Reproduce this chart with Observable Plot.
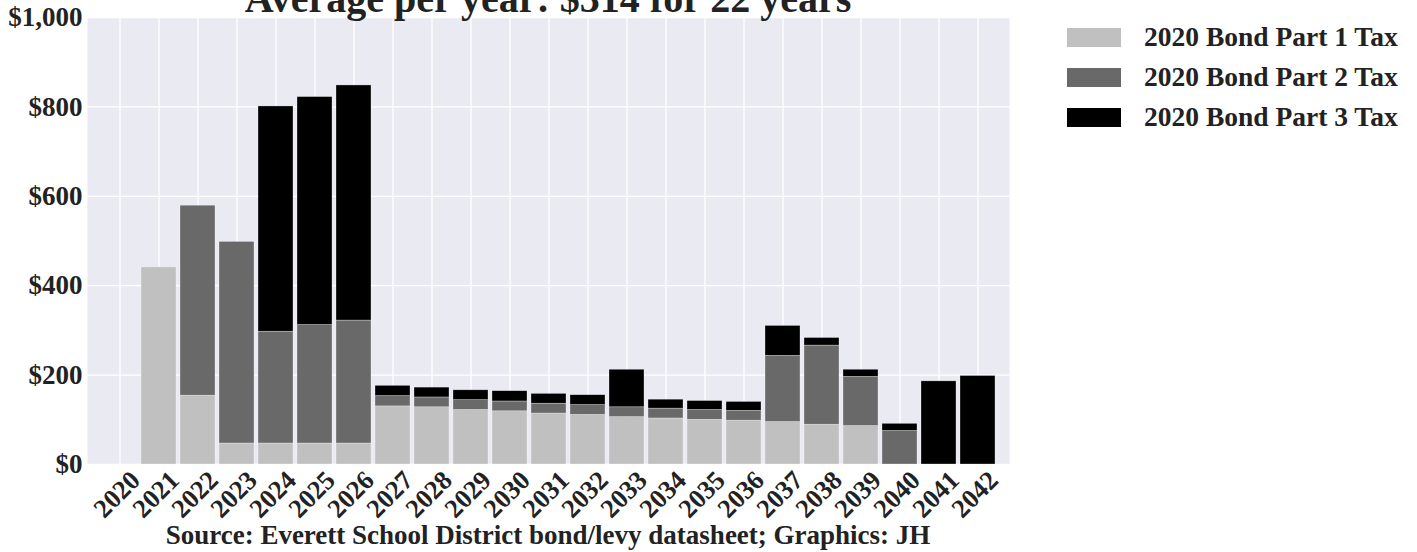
<!DOCTYPE html>
<html><head><meta charset="utf-8">
<script src="https://cdn.jsdelivr.net/npm/d3@7"></script>
<script src="https://cdn.jsdelivr.net/npm/@observablehq/plot@0.6"></script>
<style>
body{margin:0;background:#fff;}
#wrap{position:relative;width:1417px;height:552px;overflow:hidden;font-family:"Liberation Serif","Times New Roman",serif;font-weight:bold;color:#222;}
#chart{position:absolute;left:0;top:0;}
.title{position:absolute;left:0;width:1096px;text-align:center;font-size:40px;line-height:40px;top:-21px;white-space:nowrap;}
.caption{position:absolute;left:0;width:1096px;text-align:center;font-size:27px;line-height:27px;top:522px;white-space:nowrap;}
.leg{position:absolute;left:1067px;height:40px;display:flex;align-items:center;font-size:27.5px;white-space:nowrap;}
.leg .sw{width:54px;height:19px;margin-right:23px;}
</style></head>
<body><div id="wrap"><div id="chart"></div></div>
<script>
const years = ["2020","2021","2022","2023","2024","2025","2026","2027","2028","2029","2030","2031","2032","2033","2034","2035","2036","2037","2038","2039","2040","2041","2042"];
const part1 = [0, 441, 154, 47, 47, 47, 47, 130, 128, 122, 119, 114, 111, 106, 103, 100, 98, 95, 89, 86, 0, 0, 0];
const part2 = [0, 0, 425, 451, 250, 265, 275, 23, 22, 22, 22, 22, 22, 22, 22, 22, 22, 148, 177, 110, 75, 0, 0];
const part3 = [0, 0, 0, 0, 504, 510, 526, 23, 22, 22, 23, 22, 22, 84, 20, 20, 20, 67, 17, 16, 16, 186, 198];
const seriesNames = ["2020 Bond Part 1 Tax", "2020 Bond Part 2 Tax", "2020 Bond Part 3 Tax"];
const seriesColors = ["#c0c0c0", "#696969", "#000000"];
const yTicks = [0, 200, 400, 600, 800, 1000];
const titleText = "Average per year: $314 for 22 years";
const captionText = "Source: Everett School District bond/levy datasheet; Graphics: JH";

const rows = [];
[part1, part2, part3].forEach((vals, i) => vals.forEach((v, j) => rows.push({year: years[j], series: seriesNames[i], value: v})));

const chart = Plot.plot({
  width: 1417, height: 522,
  marginLeft: 87, marginRight: 408, marginTop: 17, marginBottom: 58,
  style: {fontFamily: "'Liberation Serif', 'Times New Roman', serif", fontWeight: "bold", background: "transparent", color: "#222", overflow: "visible"},
  x: {type: "band", domain: years, paddingInner: 0.11, paddingOuter: 0.255, label: null},
  y: {domain: [0, 1000], label: null},
  color: {domain: seriesNames, range: seriesColors},
  marks: [
    Plot.frame({fill: "#eaeaf2", stroke: null}),
    Plot.gridX(years, {stroke: "white", strokeOpacity: 1, strokeWidth: 1.3}),
    Plot.gridY(yTicks, {stroke: "white", strokeOpacity: 1, strokeWidth: 1.3}),
    Plot.barY(rows, {x: "year", y: "value", fill: "series", order: seriesNames, stroke: "#ffffff", strokeWidth: 0.6, strokeOpacity: 0.5}),
    Plot.axisY(yTicks, {tickFormat: d => "$" + d3.format(",")(d), tickSize: 0, tickPadding: 5, fontSize: 27, label: null}),
    Plot.axisX(years, {tickSize: 0, tickPadding: 30, tickRotate: -45, textAnchor: "middle", lineAnchor: "middle", dx: -3, fontSize: 26.5, label: null})
  ]
});
const wrap = document.getElementById("wrap");
document.getElementById("chart").appendChild(chart);

const t = document.createElement("div"); t.className = "title"; t.textContent = titleText; wrap.appendChild(t);
const c = document.createElement("div"); c.className = "caption"; c.textContent = captionText; wrap.appendChild(c);
seriesNames.forEach((name, i) => {
  const d = document.createElement("div"); d.className = "leg"; d.style.top = (17 + i * 40) + "px";
  const sw = document.createElement("div"); sw.className = "sw"; sw.style.background = seriesColors[i];
  const tx = document.createElement("span"); tx.textContent = name;
  d.appendChild(sw); d.appendChild(tx); wrap.appendChild(d);
});
</script>
</body></html>
